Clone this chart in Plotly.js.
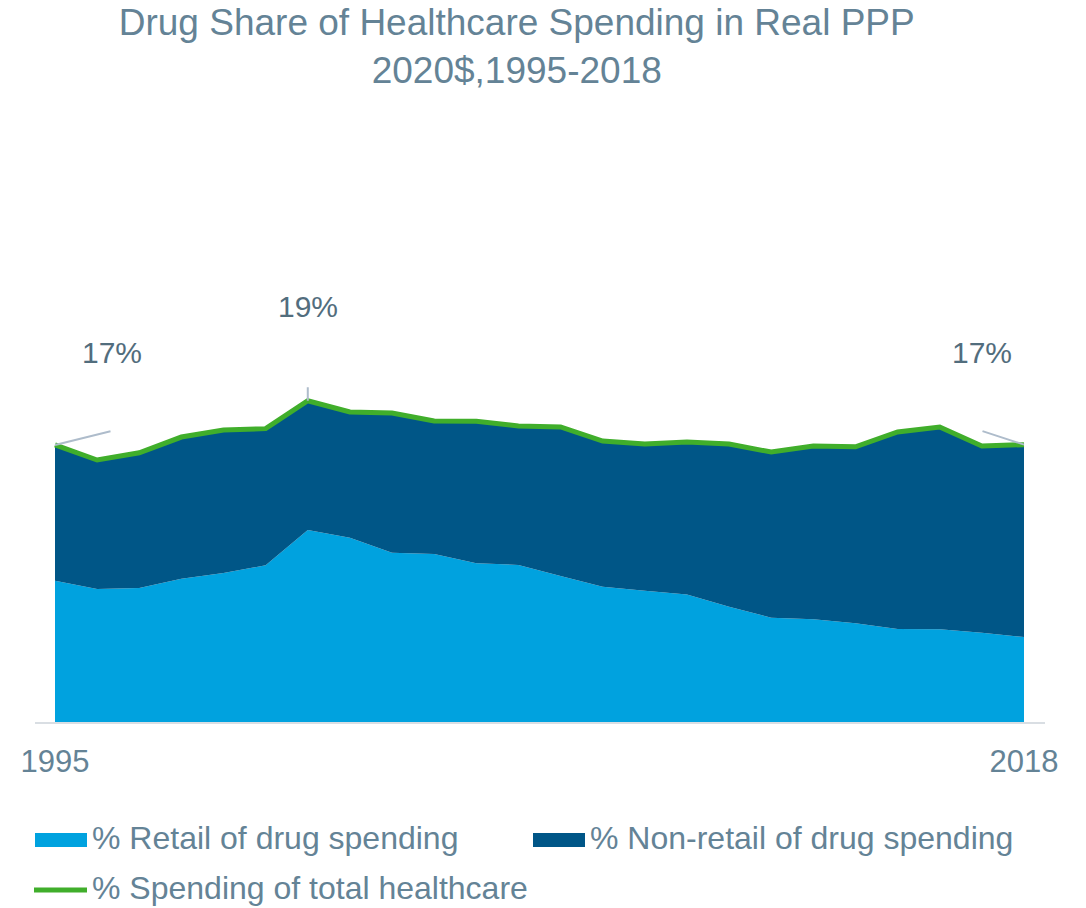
<!DOCTYPE html>
<html>
<head>
<meta charset="utf-8">
<script src="https://cdn.plot.ly/plotly-3.0.1.min.js"></script>
<style>html,body{margin:0;padding:0;background:#fff;}#chart{width:1086px;height:908px;}</style>
</head>
<body>
<div id="chart"></div>
<script>
const years = [1995,1996,1997,1998,1999,2000,2001,2002,2003,2004,2005,2006,2007,2008,2009,2010,2011,2012,2013,2014,2015,2016,2017,2018];
const retailShare = [8.56,8.06,8.12,8.68,9.03,9.50,11.64,11.17,10.26,10.18,9.62,9.52,8.85,8.20,7.96,7.72,6.99,6.32,6.22,5.98,5.64,5.62,5.41,5.15];
const nonRetailShare = [8.23,7.82,8.20,8.59,8.67,8.28,7.83,7.62,8.47,8.06,8.60,8.42,9.03,8.83,8.89,9.25,9.86,10.04,10.51,10.70,11.94,12.26,11.32,11.66];
const totalShare = [16.79,15.88,16.32,17.27,17.70,17.78,19.47,18.79,18.73,18.24,18.22,17.94,17.88,17.03,16.85,16.97,16.85,16.36,16.73,16.68,17.58,17.88,16.73,16.81];
const tickYears = [1995, 2018];
const labelYears = [1995, 2001, 2018];
const seriesNames = ['% Retail of drug spending', '% Non-retail of drug spending', '% Spending of total healthcare'];
const seriesColors = ['#00a2df', '#005687', '#40ae2b'];

const FONT = 'Liberation Sans, Arial, sans-serif';
const textColor = '#648396';
const labelColor = '#526d7d';
const leaderColor = '#aebccb';
const leaderOffsets = {1995: [57, -14], 2001: [0, -15], 2018: [-43, -14]};
const labelShifts = {1995: [57, 92], 2001: [0, 94], 2018: [-42, 92]};

// plot area geometry (pixels)
const M = {l: 35, r: 41, t: 100, b: 186};
const W = 1086, H = 908;
const plotW = W - M.l - M.r, plotH = H - M.t - M.b;
const px = v => (v - M.l) / plotW;          // page x -> paper x
const py = v => (H - M.b - v) / plotH;      // page y -> paper y

const traces = [
  {x: years, y: retailShare, name: seriesNames[0], type: 'scatter', mode: 'lines', stackgroup: 'drug',
   line: {width: 0, color: seriesColors[0]}, fillcolor: seriesColors[0], showlegend: false},
  {x: years, y: nonRetailShare, name: seriesNames[1], type: 'scatter', mode: 'lines', stackgroup: 'drug',
   line: {width: 0, color: seriesColors[1]}, fillcolor: seriesColors[1], showlegend: false},
  {x: years, y: totalShare, name: seriesNames[2], type: 'scatter', mode: 'lines',
   line: {width: 5, color: seriesColors[2]}, showlegend: false}
];

const annotations = [];
labelYears.forEach(yr => {
  const i = years.indexOf(yr);
  const v = totalShare[i];
  annotations.push({x: yr, y: v, xref: 'x', yref: 'y', text: '', showarrow: true, arrowhead: 0,
    arrowwidth: 2, arrowcolor: leaderColor, ax: leaderOffsets[yr][0], ay: leaderOffsets[yr][1]});
  annotations.push({x: yr, y: v, xref: 'x', yref: 'y', text: Math.round(v) + '%', showarrow: false,
    xshift: labelShifts[yr][0], yshift: labelShifts[yr][1], xanchor: 'center', yanchor: 'middle',
    font: {family: FONT, size: 30, color: labelColor}});
});

// custom legend (swatch geometry in page pixels)
const legendItems = [
  {kind: 'rect', x0: 35, x1: 87, y0: 833, y1: 847, tx: 90, ty: 838},
  {kind: 'rect', x0: 533, x1: 585, y0: 833, y1: 847, tx: 588, ty: 838},
  {kind: 'line', x0: 34, x1: 87, y0: 890, y1: 890, tx: 90, ty: 888}
];
const shapes = [];
legendItems.forEach((it, k) => {
  if (it.kind === 'rect') {
    shapes.push({type: 'rect', xref: 'paper', yref: 'paper', x0: px(it.x0), x1: px(it.x1),
      y0: py(it.y1), y1: py(it.y0), fillcolor: seriesColors[k], line: {width: 0}});
  } else {
    shapes.push({type: 'line', xref: 'paper', yref: 'paper', x0: px(it.x0), x1: px(it.x1),
      y0: py(it.y0), y1: py(it.y1), line: {width: 5, color: seriesColors[k]}});
  }
  annotations.push({xref: 'paper', yref: 'paper', x: px(it.tx), y: py(it.ty), text: seriesNames[k],
    showarrow: false, xanchor: 'left', yanchor: 'middle', font: {family: FONT, size: 32, color: textColor}});
});

const pxPerYear = 969 / 23;
const layout = {
  width: W, height: H,
  paper_bgcolor: '#ffffff', plot_bgcolor: '#ffffff',
  margin: M,
  font: {family: FONT, size: 30, color: textColor},
  title: {text: 'Drug Share of Healthcare Spending in Real PPP<br>2020$,1995-2018',
    font: {family: FONT, size: 37, color: textColor},
    x: 518 / W, xanchor: 'center', xref: 'paper', y: 0.962, yanchor: 'top', yref: 'container'},
  xaxis: {range: [1995 - 20 / pxPerYear, 1995 - 20 / pxPerYear + plotW / pxPerYear], tickvals: tickYears,
    ticktext: tickYears.map(String), showgrid: false, zeroline: false, showline: true,
    linecolor: '#d9dee3', linewidth: 2, ticks: 'outside', ticklen: 11, tickcolor: 'rgba(0,0,0,0)',
    tickfont: {family: FONT, size: 31, color: textColor}},
  yaxis: {range: [0, plotH / 16.5], visible: false, showgrid: false, zeroline: false},
  showlegend: false,
  annotations: annotations,
  shapes: shapes
};

Plotly.newPlot('chart', traces, layout, {staticPlot: true, displayModeBar: false});
</script>
</body>
</html>
